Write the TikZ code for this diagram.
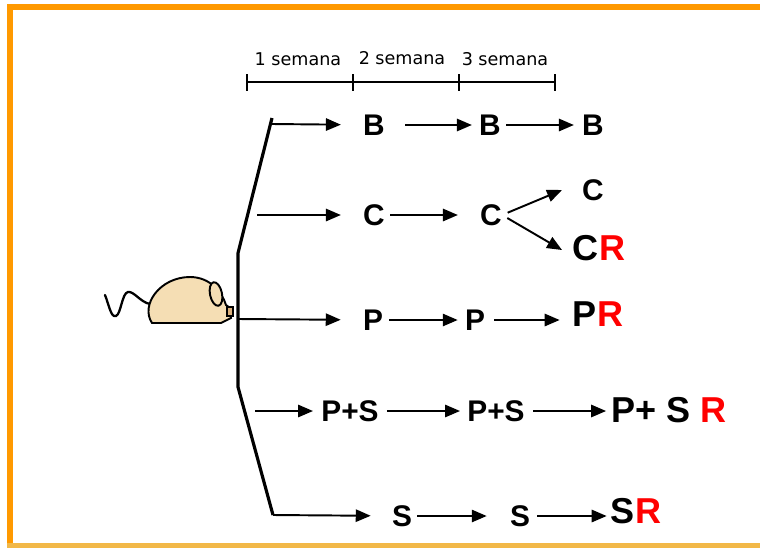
\documentclass[tikz,border=0pt]{standalone}
\usepackage{fontspec}
\setmainfont{Liberation Sans}
\newfontfamily\labelfont{DejaVu Sans}
\usepackage{xcolor}
\usepackage{tikz}
\usetikzlibrary{arrows.meta,positioning,calc}

\definecolor{frameorange}{RGB}{255,153,0}
\definecolor{framelight}{RGB}{242,184,72}
\definecolor{mousefill}{RGB}{245,222,180}

\begin{document}
\begin{tikzpicture}[x=0.02cm, y=-0.02cm,
    arr/.style={-{Triangle[length=8.5pt,width=7pt]}, line width=1.1pt},
    mid/.style={font=\fontsize{17}{19}\selectfont\bfseries, inner sep=0pt},
    fin/.style={font=\fontsize{20.5}{22}\selectfont\bfseries, inner sep=0pt},
    wk/.style={font=\labelfont\fontsize{10}{11}\selectfont, inner sep=0pt}]
    \useasboundingbox (0,0) rectangle (760,548);

    % Frame
    \fill[white] (0,0) rectangle (760,548);
    \fill[frameorange] (7,4) rectangle (760,10);
    \fill[frameorange] (7,4) rectangle (13,548);
    \fill[framelight] (7,543) rectangle (760,548);

    % Weeks
    \draw[line width=1.7pt] (247,82) -- (555,82);
    \foreach \x in {247,353,459,555}
        \draw[line width=1.2pt] (\x,74) -- (\x,91);
    \node[wk] (w1) at (298,59) {1 semana};
    \node[wk] (w2) at (402,58) {2 semana};
    \node[wk] (w3) at (505,59) {3 semana};

    % Mouse
    \draw[line width=1.3pt, line cap=round] (105,295) .. controls (109,305) and (111,318) .. (116,316)
        .. controls (121,314) and (122,293) .. (128,292)
        .. controls (134,291) and (140,302) .. (150,304);
    \draw[line width=1.1pt, fill=mousefill] (152,323) .. controls (140,305) and (160,277) .. (190,277)
        .. controls (210,277) and (222,292) .. (226,305) -- (230,308) -- (231,318) -- (221,323) -- cycle;
    \draw[line width=1.1pt, fill=mousefill, rotate around={12:(216,294)}] (216,294) ellipse (6 and 12);
    \draw[line width=1pt, fill=mousefill!50!brown] (227,307) rectangle (233,316);

    % Trunk
    \coordinate (t1) at (272,124);
    \coordinate (t2) at (238,253);
    \coordinate (t3) at (238,387);
    \coordinate (t5) at (273,515);
    \draw[line width=1.8pt, line join=round] (272,118) -- (t2) -- (t3) -- (t5);
    \coordinate (c0) at (257,215);
    \coordinate (p0) at (238,319);
    \coordinate (q0) at (255,411);

    % B
    \node[mid] (b1) at (374,125) {B};
    \node[mid] (b2) at (490,125) {B};
    \node[mid] (b3) at (593,125) {B};
    \draw[arr, shorten >=0.44cm] (t1) -- (b1);
    \draw[arr, shorten <=0.40cm, shorten >=0.14cm] (b1) -- (b2);
    \draw[arr, shorten <=0.10cm, shorten >=0.16cm] (b2) -- (b3);

    % C
    \node[mid] (c1) at (374,215) {C};
    \node[mid] (c2) at (491,215) {C};
    \node[mid] (c3) at (593,190) {C};
    \node[fin] (c4) at (599,248) {C\textcolor{red}{R}};
    \coordinate (cup) at (562,190);
    \coordinate (clo) at (562,250);
    \draw[arr, shorten >=0.44cm] (c0) -- (c1);
    \draw[arr, shorten <=0.10cm, shorten >=0.44cm] (c1) -- (c2);
    \draw[arr, shorten <=0.12cm] (c2.east) -- (cup);
    \draw[arr, shorten <=0.12cm] (c2.east) -- (clo);

    % P
    \node[mid] (p1) at (373,320) {P};
    \node[mid] (p2) at (475,320) {P};
    \node[fin] (p3) at (598,314) {P\textcolor{red}{R}};
    \draw[arr, shorten >=0.44cm] (p0) -- (p1);
    \draw[arr, shorten <=0.12cm, shorten >=0.14cm] (p1) -- (p2);
    \draw[arr, shorten <=0.18cm, shorten >=0.26cm] (p2) -- (p3.west |- p2);

    % P+S
    \node[mid] (q1) at (350,411) {P+S};
    \node[mid] (q2) at (496,411) {P+S};
    \node[fin] (q3) at (669,410) {P+ S \textcolor{red}{R}};
    \draw[arr, shorten >=0.16cm] (q0) -- (q1);
    \draw[arr, shorten <=0.16cm, shorten >=0.14cm] (q1) -- (q2);
    \draw[arr, shorten <=0.16cm, shorten >=0.10cm] (q2) -- (q3.west |- q2);

    % S
    \node[mid] (s1) at (402,516) {S};
    \node[mid] (s2) at (520,516) {S};
    \node[fin] (s3) at (636,511) {S\textcolor{red}{R}};
    \draw[arr, shorten >=0.42cm] (t5) -- (s1);
    \draw[arr, shorten <=0.10cm, shorten >=0.46cm] (s1) -- (s2);
    \draw[arr, shorten <=0.14cm, shorten >=0.08cm] (s2) -- (s3.west |- s2);
\end{tikzpicture}
\end{document}
